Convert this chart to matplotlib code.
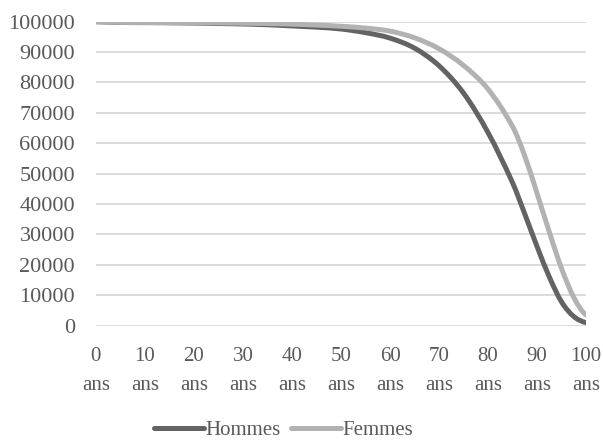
import matplotlib
matplotlib.use("Agg")
import matplotlib.pyplot as plt
import numpy as np
from matplotlib.path import Path
from matplotlib.patches import PathPatch
from matplotlib.lines import Line2D

ages = [0, 5, 10, 15, 20, 25, 30, 35, 40, 45, 50, 55, 60, 65, 70, 75, 80,
        85, 87.5, 90, 92.5, 95, 97.5, 100]
hommes = [100000, 99750, 99700, 99650, 99550, 99400, 99250, 99000, 98600, 98200,
          97600, 96400, 94600, 91300, 85500, 76500, 63500,
          47000, 36700, 26000, 16000, 7800, 3000, 1000]
femmes = [100000, 99780, 99750, 99700, 99650, 99600, 99500, 99400, 99200, 98900,
          98500, 97900, 96900, 94700, 91100, 85600, 77800,
          65500, 55750, 43500, 30750, 18750, 9250, 3500]
tick_ages = [0, 10, 20, 30, 40, 50, 60, 70, 80, 90, 100]
tick_labels = [f"{a}\nans" for a in tick_ages]
yticks = list(range(0, 100001, 10000))

C_H = "#636363"
C_F = "#b2b2b2"
TXT = "#595959"
GRID = "#d9d9d9"
FONT = ["Liberation Serif", "DejaVu Serif"]
FS = 15

plt.rcParams["font.family"] = FONT


def smooth_path(x, y):
    x = np.asarray(x, float)
    y = np.asarray(y, float)
    n = len(x)
    m = np.zeros(n)
    for i in range(n):
        if i == 0:
            m[i] = (y[1] - y[0]) / (x[1] - x[0]) * 0.5
        elif i == n - 1:
            m[i] = (y[-1] - y[-2]) / (x[-1] - x[-2]) * 0.5
        else:
            m[i] = (y[i + 1] - y[i - 1]) / (x[i + 1] - x[i - 1])
    verts = [(x[0], y[0])]
    codes = [Path.MOVETO]
    for i in range(n - 1):
        h = x[i + 1] - x[i]
        verts += [(x[i] + h / 3, y[i] + m[i] * h / 3),
                  (x[i + 1] - h / 3, y[i + 1] - m[i + 1] * h / 3),
                  (x[i + 1], y[i + 1])]
        codes += [Path.CURVE4] * 3
    return Path(verts, codes)


fig = plt.figure(figsize=(6.03, 4.41), dpi=100)
ax = fig.add_axes([0.159, 0.2615, 0.813, 0.6893])

for yv in yticks:
    ax.axhline(yv, color=GRID, lw=1.3, zorder=0)

for vals, col in [(hommes, C_H), (femmes, C_F)]:
    patch = PathPatch(smooth_path(ages, vals), facecolor="none", edgecolor=col,
                      lw=3.6, capstyle="round", joinstyle="round", zorder=3)
    ax.add_patch(patch)

ax.set_xlim(0, 100)
ax.set_ylim(0, 100000)
ax.set_yticks(yticks)
ax.set_yticklabels([str(v) for v in yticks])
ax.set_xticks(tick_ages)
ax.set_xticklabels(tick_labels, linespacing=1.75)
for s in ax.spines.values():
    s.set_visible(False)
ax.tick_params(axis="y", length=0, pad=15, labelsize=16, labelcolor=TXT)
ax.tick_params(axis="x", length=0, pad=15, labelsize=FS, labelcolor=TXT)

handles = [Line2D([], [], color=C_H, lw=3.6, solid_capstyle="round"),
           Line2D([], [], color=C_F, lw=3.6, solid_capstyle="round")]
fig.legend(handles, ["Hommes", "Femmes"], loc="center", bbox_to_anchor=(0.47, 0.024),
           ncol=2, frameon=False, fontsize=FS, labelcolor=TXT,
           handlelength=2.4, handletextpad=0.05, columnspacing=0.5)

fig.savefig("out.png", dpi=100)
